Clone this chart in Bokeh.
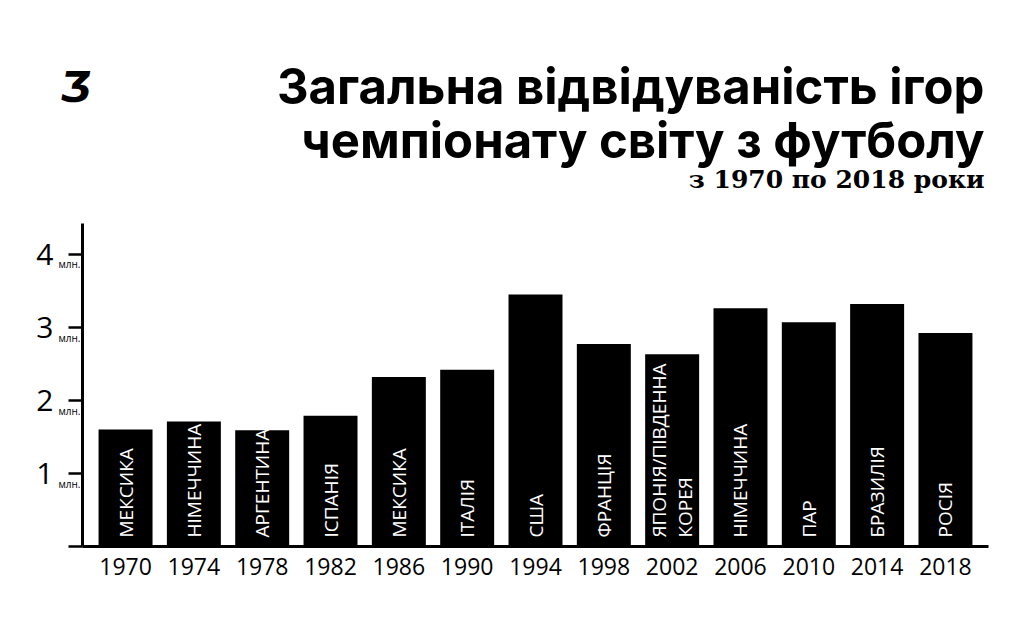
import math
from bokeh.plotting import figure
from bokeh.models import (ColumnDataSource, FactorRange, Range1d, FixedTicker,
                          LinearAxis, CustomJSTickFormatter)
from bokeh.core.properties import value
from bokeh.embed import file_html
from bokeh.resources import INLINE

# ---- data ----
years = ["1970", "1974", "1978", "1982", "1986", "1990", "1994",
         "1998", "2002", "2006", "2010", "2014", "2018"]
hosts = ["МЕКСИКА", "НІМЕЧЧИНА", "АРГЕНТИНА", "ІСПАНІЯ", "МЕКСИКА", "ІТАЛІЯ",
         "США", "ФРАНЦІЯ", "ЯПОНІЯ/ПІВДЕННА\nКОРЕЯ", "НІМЕЧЧИНА", "ПАР",
         "БРАЗИЛІЯ", "РОСІЯ"]
attendance_mln = [1.60, 1.71, 1.59, 1.79, 2.32, 2.42, 3.45,
                  2.77, 2.63, 3.26, 3.07, 3.32, 2.92]
y_ticks = [0, 1, 2, 3, 4]
y_tick_labels = ["", "1", "2", "3", "4"]
unit_label = "млн."
title_line1 = "Загальна відвідуваність ігор"
title_line2 = "чемпіонату світу з футболу"
subtitle = "з 1970 по 2018 роки"
logo = "Ʒ"

W = 1008

# ---------------- title block (its own root, coordinates = pixels) ----------------
t = figure(width=W, height=223, x_range=Range1d(0, W), y_range=Range1d(223, 0),
           output_backend="svg", toolbar_location=None,
           x_axis_location=None, y_axis_location=None,
           min_border=0, min_border_left=0, min_border_right=0,
           min_border_top=0, min_border_bottom=0)
t.outline_line_color = None
t.grid.visible = False

t.text(x=[984], y=[86], text=[title_line1], text_align="right",
       text_baseline="alphabetic", text_font=value("Inter"),
       text_font_style="bold", text_font_size="49px", text_color="black")
t.text(x=[984], y=[140], text=[title_line2], text_align="right",
       text_baseline="alphabetic", text_font=value("Inter"),
       text_font_style="bold", text_font_size="49px", text_color="black")
t.text(x=[984], y=[179], text=[subtitle], text_align="right",
       text_baseline="alphabetic", text_font=value("DejaVu Serif"),
       text_font_style="bold", text_font_size="25px", text_color="black")
t.text(x=[60], y=[86], text=[logo], text_align="left",
       text_baseline="alphabetic", text_font=value("DejaVu Sans"),
       text_font_style="bold italic", text_font_size="40px", text_color="black")

# ---------------- chart ----------------
src = ColumnDataSource(dict(year=years, host=hosts, att=attendance_mln))

p = figure(x_range=FactorRange(*years, range_padding=0.02),
           y_range=Range1d(0, 4.42),
           width=W, height=400,
           output_backend="svg", toolbar_location=None,
           min_border_left=82, min_border_right=20,
           min_border_top=0, min_border_bottom=77)
p.outline_line_color = None
p.xgrid.visible = False
p.ygrid.visible = False

p.vbar(x="year", top="att", width=0.79, source=src,
       fill_color="black", line_color=None)

p.text(x="year", y=0, text="host", source=src, angle=math.pi / 2,
       text_align="left", text_baseline="middle", text_color="white",
       text_font=value("Open Sans"), text_font_size="19px",
       y_offset=-9, text_line_height=1.0)

xa = p.xaxis[0]
xa.axis_line_width = 3
xa.axis_line_color = "black"
xa.major_tick_line_color = None
xa.minor_tick_line_color = None
xa.major_label_text_font = "Open Sans"
xa.major_label_text_font_size = "23px"
xa.major_label_text_color = "black"
xa.major_label_standoff = 5

# axis nearest the frame: line + tick marks
ya = p.yaxis[0]
ya.ticker = FixedTicker(ticks=y_ticks)
ya.major_label_overrides = {tk: "" for tk in y_ticks}
ya.axis_line_width = 3
ya.axis_line_color = "black"
ya.major_tick_line_width = 2.5
ya.major_tick_line_color = "black"
ya.major_tick_out = 14
ya.major_tick_in = 0
ya.minor_tick_line_color = None
ya.major_label_standoff = 0

# unit labels ("млн."), sitting just under each tick
unit_ticks = [tk - 0.14 for tk, lb in zip(y_ticks, y_tick_labels) if lb]
yb = LinearAxis(ticker=FixedTicker(ticks=unit_ticks),
                formatter=CustomJSTickFormatter(code=f'return "{unit_label}";'))
yb.axis_line_color = None
yb.major_tick_line_color = None
yb.minor_tick_line_color = None
yb.major_tick_out = 0
yb.major_tick_in = 0
yb.major_label_text_font = "Open Sans"
yb.major_label_text_font_size = "10px"
yb.major_label_text_color = "black"
yb.major_label_standoff = -12
p.add_layout(yb, "left")

# digits
yc = LinearAxis(ticker=FixedTicker(ticks=[tk for tk, lb in zip(y_ticks, y_tick_labels) if lb]))
yc.major_label_overrides = {tk: lb for tk, lb in zip(y_ticks, y_tick_labels) if lb}
yc.axis_line_color = None
yc.major_tick_line_color = None
yc.minor_tick_line_color = None
yc.major_tick_out = 0
yc.major_tick_in = 0
yc.major_label_text_font = "Open Sans"
yc.major_label_text_font_size = "30px"
yc.major_label_text_color = "black"
yc.major_label_standoff = 2
p.add_layout(yc, "left")

open("out.html", "w").write(file_html([t, p], INLINE))
